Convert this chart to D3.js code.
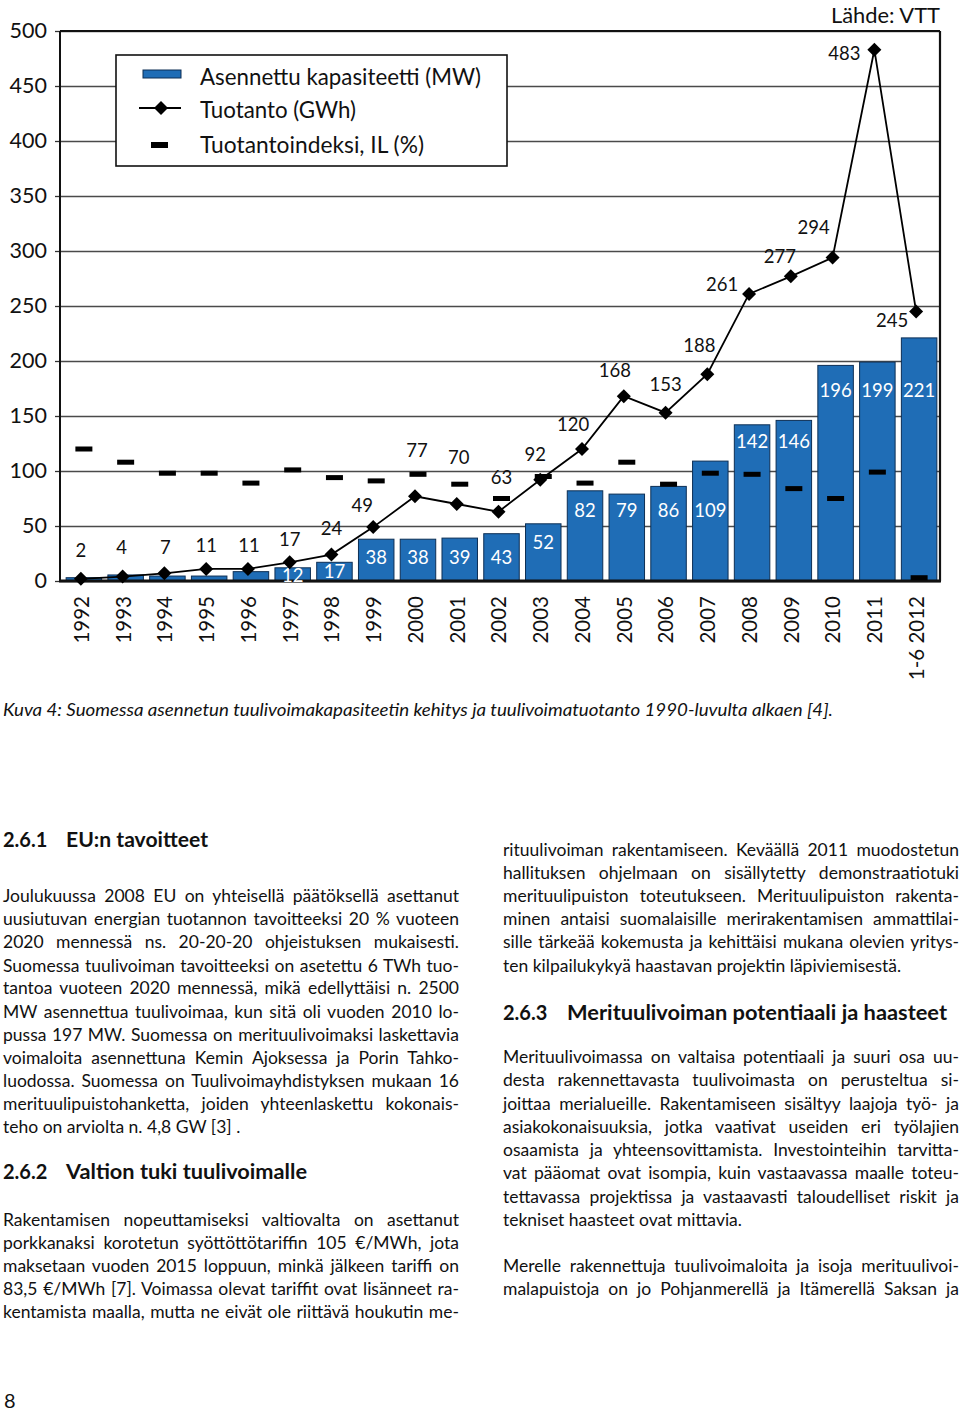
<!DOCTYPE html>
<html><head><meta charset="utf-8">
<script src="https://cdn.jsdelivr.net/npm/d3@7"></script>
<style>
html,body{margin:0;padding:0;background:#fff;}
svg{display:block;}
</style></head>
<body><svg id="c" width="960" height="1412"></svg>
<script>
// ---------- DATA ----------
const years = ["1992","1993","1994","1995","1996","1997","1998","1999","2000","2001","2002","2003","2004","2005","2006","2007","2008","2009","2010","2011","1-6 2012"];
const capacity = [3, 5.5, 4.5, 4.5, 8.5, 12, 17, 38, 38, 39, 43, 52, 82, 79, 86, 109, 142, 146, 196, 199, 221];
const capacityShown = [false,false,false,false,false,true,true,true,true,true,true,true,true,true,true,true,true,true,true,true,true];
const production = [2, 4, 7, 11, 11, 17, 24, 49, 77, 70, 63, 92, 120, 168, 153, 188, 261, 277, 294, 483, 245];
const indexIL = [120, 108, 98, 98, 89, 101, 94, 91, 97, 88, 75, 95, 89, 108, 88, 98, 97, 84, 75, 99, 3];
const yTicks = [0, 50, 100, 150, 200, 250, 300, 350, 400, 450, 500];
const legendLabels = ["Asennettu kapasiteetti (MW)", "Tuotanto (GWh)", "Tuotantoindeksi, IL (%)"];
const sourceText = "Lähde: VTT";
const caption = "Kuva 4: Suomessa asennetun tuulivoimakapasiteetin kehitys ja tuulivoimatuotanto 1990-luvulta alkaen [4].";

// ---------- LAYOUT (label placement, px / value units) ----------
const prodLabelOffset = [[0,-28],[-1,-29],[1,-26],[0,-24],[1,-24],[0,-23],[0,-26],[-11,-22],[2,-46],[2,-47],[3,-34],[-5,-25],[-9,-25],[-9,-26],[0,-28],[-8,-29],[-27,-10],[-11,-20],[-19,-30],[-30,4],[-24,9]];
const capLabelAt = [0,0,0,0,0,5.5,8.5,21.5,21.5,21.5,21.5,34.8,64.5,64.5,64.5,64.5,126.6,126.6,173.6,173.6,173.6];

const svg = d3.select("#c");
const FONT = "Lato, 'Open Sans', sans-serif";
const BLUE = "#1f6db6";
const L = 60, R = 940, T = 31, B = 581;

const y = d3.scaleLinear().domain([0, 500]).range([B, T]);
const xBar = d3.scaleBand().domain(years).range([63, 940]).paddingInner(0.15).paddingOuter(0.075);
const xPt = d3.scalePoint().domain(years).range([60, 937]).padding(0.5);

// grid
const grid = svg.append("g").attr("transform", `translate(${L},0)`)
  .call(d3.axisRight(y).tickValues(yTicks).tickSize(R - L).tickFormat(""));
grid.select(".domain").remove();
grid.selectAll("line").attr("stroke", "#4a4a4a").attr("stroke-width", 1.3);

// left axis labels + small ticks
const ya = svg.append("g").attr("transform", `translate(${L},0)`)
  .call(d3.axisLeft(y).tickValues(yTicks).tickSize(5).tickPadding(8));
ya.select(".domain").remove();
ya.selectAll("line").attr("stroke", "#333").attr("stroke-width", 1.3);
ya.selectAll("text").attr("font-family", FONT).attr("font-size", 21.5).attr("fill", "#111").attr("dy", "0.28em");

// bars
svg.append("g").selectAll("rect").data(years).join("rect")
  .attr("x", d => xBar(d)).attr("width", xBar.bandwidth())
  .attr("y", (d, i) => y(capacity[i])).attr("height", (d, i) => B - y(capacity[i]))
  .attr("fill", BLUE).attr("stroke", "#0d2f55").attr("stroke-width", 1);

// frame
const fr = svg.append("g").attr("stroke", "#111").attr("fill", "none");
fr.append("line").attr("x1", L).attr("x2", R).attr("y1", T).attr("y2", T).attr("stroke-width", 1.8);
fr.append("line").attr("x1", L).attr("x2", L).attr("y1", T).attr("y2", B).attr("stroke-width", 2);
fr.append("line").attr("x1", R).attr("x2", R).attr("y1", T).attr("y2", B).attr("stroke-width", 2.2);
fr.append("line").attr("x1", L - 1).attr("x2", R + 1).attr("y1", B).attr("y2", B).attr("stroke-width", 3);

// capacity labels (white, inside bars)
svg.append("g").selectAll("text").data(years.filter((d, i) => capacityShown[i])).join("text")
  .attr("x", d => xBar(d) + xBar.bandwidth() / 2)
  .attr("y", d => y(capLabelAt[years.indexOf(d)]))
  .attr("dy", "0.36em").attr("text-anchor", "middle")
  .attr("font-family", FONT).attr("font-size", 18.5).attr("fill", "#fff")
  .text(d => String(capacity[years.indexOf(d)]));

// index dashes
svg.append("g").selectAll("rect").data(years).join("rect")
  .attr("x", d => xBar(d) + xBar.bandwidth() / 2 - 8.5).attr("width", 17)
  .attr("y", (d, i) => y(indexIL[i]) - 2.5).attr("height", 5).attr("fill", "#000");

// production line
const line = d3.line().x((d, i) => xPt(years[i])).y(d => y(d));
svg.append("path").datum(production).attr("d", line)
  .attr("fill", "none").attr("stroke", "#000").attr("stroke-width", 1.8);
const diamond = d3.symbol().type(d3.symbolDiamond2).size(125);
svg.append("g").selectAll("path").data(production).join("path")
  .attr("transform", (d, i) => `translate(${xPt(years[i])},${y(d)})`)
  .attr("d", diamond).attr("fill", "#000");

// production labels
svg.append("g").selectAll("text").data(production).join("text")
  .attr("x", (d, i) => xPt(years[i]) + prodLabelOffset[i][0])
  .attr("y", (d, i) => y(d) + prodLabelOffset[i][1])
  .attr("dy", "0.36em").attr("text-anchor", "middle")
  .attr("font-family", FONT).attr("font-size", 18.5).attr("fill", "#111")
  .text(d => d);

// x axis labels
const xa = svg.append("g").attr("transform", `translate(0,${B})`)
  .call(d3.axisBottom(xPt).tickSize(0));
xa.select(".domain").remove();
xa.selectAll("text")
  .attr("transform", "rotate(-90)").attr("text-anchor", "end")
  .attr("x", -15).attr("y", 0).attr("dy", "0.36em")
  .attr("font-family", FONT).attr("font-size", 20.5).attr("fill", "#111");

// legend
const lg = svg.append("g");
lg.append("rect").attr("x", 116).attr("y", 55).attr("width", 391).attr("height", 111)
  .attr("fill", "#fff").attr("stroke", "#111").attr("stroke-width", 1.6);
lg.append("rect").attr("x", 143).attr("y", 70).attr("width", 38).attr("height", 8)
  .attr("fill", BLUE).attr("stroke", "#0d2f55").attr("stroke-width", 1);
lg.append("line").attr("x1", 139).attr("x2", 181).attr("y1", 108).attr("y2", 108)
  .attr("stroke", "#000").attr("stroke-width", 1.8);
lg.append("path").attr("transform", "translate(161,108)").attr("d", diamond).attr("fill", "#000");
lg.append("rect").attr("x", 151).attr("y", 142).attr("width", 17).attr("height", 6).attr("fill", "#000");
const lgY = [77, 110, 145];
const lgW = [281, 156, 224];
lg.selectAll("text.l").data(legendLabels).join("text").attr("class", "l")
  .attr("x", 200).attr("y", (d, i) => lgY[i]).attr("dy", "0.36em")
  .attr("font-family", FONT).attr("font-size", 22.5).attr("fill", "#111")
  .attr("textLength", (d, i) => lgW[i]).attr("lengthAdjust", "spacingAndGlyphs")
  .text(d => d);

// source
svg.append("text").attr("x", 940).attr("y", 22.5).attr("text-anchor", "end")
  .attr("font-family", FONT).attr("font-size", 22).attr("fill", "#111")
  .attr("textLength", 109).attr("lengthAdjust", "spacingAndGlyphs").text(sourceText);

// caption
svg.append("text").attr("x", 3).attr("y", 710).attr("dy", "0.36em")
  .attr("font-family", FONT).attr("font-style", "italic").attr("font-size", 17).attr("fill", "#111")
  .attr("textLength", 830).attr("lengthAdjust", "spacingAndGlyphs").text(caption);

// ---------- BODY TEXT ----------
const BODY = 17.5;
function textLine(x, w, yc, str, justify, opts = {}) {
  const t = svg.append("text").attr("x", x).attr("y", yc).attr("dy", "0.36em")
    .attr("font-family", FONT).attr("font-size", opts.size || BODY)
    .attr("font-weight", opts.weight || "normal").attr("fill", "#111").text(str);
  const nat = t.node().getComputedTextLength();
  const spaces = (str.match(/ /g) || []).length;
  if (justify) {
    if (nat <= w && spaces > 0) t.attr("word-spacing", (w - nat) / spaces);
    else t.attr("textLength", w).attr("lengthAdjust", "spacingAndGlyphs");
  } else if (nat > w) {
    t.attr("textLength", w).attr("lengthAdjust", "spacingAndGlyphs");
  }
  return t;
}
function heading(x, yc, num, title, titleX, titleW) {
  textLine(x, 80, yc, num, false, {size: 20, weight: "bold"});
  const t = textLine(titleX, titleW, yc, title, false, {size: 20, weight: "bold"});
  t.attr("textLength", titleW).attr("lengthAdjust", "spacingAndGlyphs");
}
function para(x, w, ys, lines, lastJustified) {
  lines.forEach((s, i) => textLine(x, w, ys[i], s, i < lines.length - 1 || lastJustified));
}

const LX = 3, LW = 456, RX = 503, RW = 456;
heading(LX, 840, "2.6.1", "EU:n tavoitteet", 66, 142);
para(LX, LW, [896, 919, 942, 966, 988, 1012, 1035, 1058, 1081, 1104, 1127], [
  "Joulukuussa 2008 EU on yhteisellä päätöksellä asettanut",
  "uusiutuvan energian tuotannon tavoitteeksi 20 % vuoteen",
  "2020 mennessä ns. 20-20-20 ohjeistuksen mukaisesti.",
  "Suomessa tuulivoiman tavoitteeksi on asetettu 6 TWh tuo-",
  "tantoa vuoteen 2020 mennessä, mikä edellyttäisi n. 2500",
  "MW asennettua tuulivoimaa, kun sitä oli vuoden 2010 lo-",
  "pussa 197 MW. Suomessa on merituulivoimaksi laskettavia",
  "voimaloita asennettuna Kemin Ajoksessa ja Porin Tahko-",
  "luodossa. Suomessa on Tuulivoimayhdistyksen mukaan 16",
  "merituulipuistohanketta, joiden yhteenlaskettu kokonais-",
  "teho on arviolta n. 4,8 GW [3] ."
], false);
heading(LX, 1172, "2.6.2", "Valtion tuki tuulivoimalle", 66, 241);
para(LX, LW, [1220, 1243, 1266, 1289, 1312], [
  "Rakentamisen nopeuttamiseksi valtiovalta on asettanut",
  "porkkanaksi korotetun syöttöttötariffin 105 €/MWh, jota",
  "maksetaan vuoden 2015 loppuun, minkä jälkeen tariffi on",
  "83,5 €/MWh [7]. Voimassa olevat tariffit ovat lisänneet ra-",
  "kentamista maalla, mutta ne eivät ole riittävä houkutin me-"
], true);

para(RX, RW, [850, 873, 896, 919, 942, 966], [
  "rituulivoiman rakentamiseen. Keväällä 2011 muodostetun",
  "hallituksen ohjelmaan on sisällytetty demonstraatiotuki",
  "merituulipuiston toteutukseen. Merituulipuiston rakenta-",
  "minen antaisi suomalaisille merirakentamisen ammattilai-",
  "sille tärkeää kokemusta ja kehittäisi mukana olevien yritys-",
  "ten kilpailukykyä haastavan projektin läpiviemisestä."
], false);
heading(RX, 1013, "2.6.3", "Merituulivoiman potentiaali ja haasteet", 567, 380);
para(RX, RW, [1057, 1080, 1104, 1127, 1150, 1173, 1197, 1220], [
  "Merituulivoimassa on valtaisa potentiaali ja suuri osa uu-",
  "desta rakennettavasta tuulivoimasta on perusteltua si-",
  "joittaa merialueille. Rakentamiseen sisältyy laajoja työ- ja",
  "asiakokonaisuuksia, jotka vaativat useiden eri työlajien",
  "osaamista ja yhteensovittamista. Investointeihin tarvitta-",
  "vat pääomat ovat isompia, kuin vastaavassa maalle toteu-",
  "tettavassa projektissa ja vastaavasti taloudelliset riskit ja",
  "tekniset haasteet ovat mittavia."
], false);
para(RX, RW, [1266, 1289], [
  "Merelle rakennettuja tuulivoimaloita ja isoja merituulivoi-",
  "malapuistoja on jo Pohjanmerellä ja Itämerellä Saksan ja"
], true);

// page number
svg.append("text").attr("x", 4).attr("y", 1408)
  .attr("font-family", FONT).attr("font-size", 20).attr("fill", "#111").text("8");
</script>
</body></html>
